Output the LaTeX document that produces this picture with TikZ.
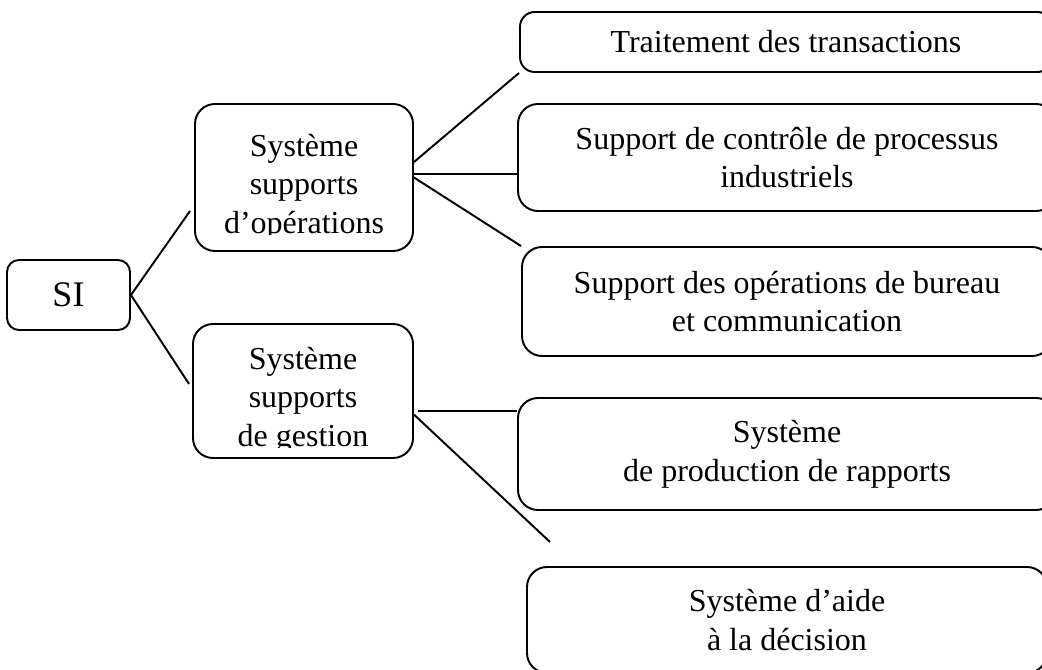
\documentclass[tikz,border=0pt]{standalone}
\usepackage{fontspec}
\setmainfont{Liberation Serif}
\begin{document}
\begin{tikzpicture}[x=0.75pt, y=-0.75pt, line width=1.45pt,
        box/.style={draw, rounded corners=15pt, align=center, inner sep=0pt,
            font=\fontsize{24}{29}\selectfont},
        boxtext/.style={align=center, inner sep=0pt, font=\fontsize{24}{29}\selectfont}]
    \useasboundingbox (0,0) rectangle (1042,670);

    % root
    \node[box, rounded corners=9pt, minimum width=92.25pt, minimum height=52.5pt,
        font=\fontsize{27}{32}\selectfont] (si) at (68.5,295) {SI};

    % second level (text cut at the bottom)
    \node[box, minimum width=163.5pt, minimum height=110.25pt] (ops) at (304,177.5) {};
    \node[box, minimum width=165pt, minimum height=100.5pt] (gest) at (303,391) {};
    \begin{scope}
        \clip (195,104) rectangle (413,235);
        \node[boxtext] (ops-txt) at (304,187) {Système\\supports\\d’opérations};
    \end{scope}
    \begin{scope}
        \clip (193,324) rectangle (413,447);
        \node[boxtext] (gest-txt) at (303,400) {Système\\supports\\de gestion};
    \end{scope}

    % third level
    \node[box, rounded corners=11pt, minimum width=399pt, minimum height=45pt] (trait) at (786,42) {Traitement des transactions};
    \node[box, minimum width=403.5pt, minimum height=80.25pt] (ctrl) at (787,157.5) {Support de contrôle de processus\\industriels};
    \node[box, minimum width=397.5pt, minimum height=81.75pt] (bureau) at (787,301.5) {Support des opérations de bureau\\et communication};
    \node[box, minimum width=403.5pt, minimum height=84pt] (prod) at (787,454) {Système\\de production de rapports};
    \node[box, minimum width=390pt, minimum height=79.5pt] (aide) at (787,620) {Système d’aide\\à la décision};

    % free ends
    \coordinate (si-up) at (190,211);
    \coordinate (si-down) at (189,384);
    \coordinate (g-out) at (418,411);
    \coordinate (aide-in) at (550,542);

    \draw (si.east) -- (si-up);
    \draw (si.east) -- (si-down);

    \draw (ops.8) -- (trait.south west);
    \draw (ops.2) -- (ops.2 -| ctrl.west);
    \draw (ops.east) -- (bureau.north west);

    \draw (g-out) -- (g-out -| prod.west);
    \draw (gest.-12) -- (aide-in);
\end{tikzpicture}
\end{document}
